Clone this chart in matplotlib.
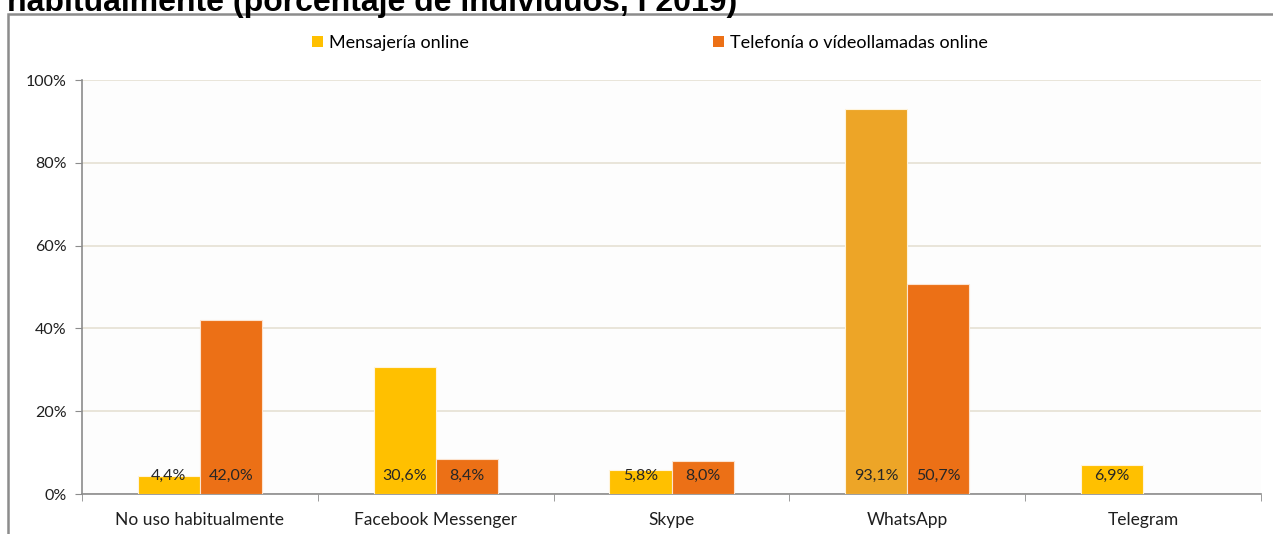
import numpy as np
from matplotlib import pyplot as plt
import matplotlib.patches as patches

categorias = ['No uso habitualmente', 'Facebook Messenger', 'Skype', 'WhatsApp', 'Telegram']
mensajeria = [4.4, 30.6, 5.8, 93.1, 6.9]
telefonia = [42.0, 8.4, 8.0, 50.7, np.nan]
series = ['Mensajería online', 'Telefonía o vídeollamadas online']
yticks = [0, 20, 40, 60, 80, 100]

col_msg = '#FFC000'
col_msg_wa = '#EDA527'
col_tel = '#EC7016'

plt.rcParams['font.family'] = ['Lato', 'DejaVu Sans']

fig = plt.figure(figsize=(12.73, 5.34), dpi=100)
fig.patch.set_facecolor('white')

# marco exterior del gráfico
marco = patches.Rectangle((8 / 1273, -0.05), 1.2, (534 - 13.5) / 534 + 0.05,
                          transform=fig.transFigure, fill=False,
                          edgecolor='#8C8C8C', linewidth=1.8)
fig.add_artist(marco)

fig.text(7 / 1273, 1 - 11 / 534, 'habitualmente (porcentaje de individuos, I 2019)',
         fontsize=23, fontweight='bold', family=['Liberation Sans', 'DejaVu Sans'],
         ha='left', va='baseline')

ax = fig.add_axes([82 / 1273, 40 / 534, (1261 - 82) / 1273, (494 - 80) / 534])
ax.set_facecolor('#FDFDFD')

x = np.arange(len(categorias))
w = 0.263
colores_msg = [col_msg_wa if c == 'WhatsApp' else col_msg for c in categorias]
b1 = ax.bar(x - w / 2, mensajeria, w, color=colores_msg, edgecolor='#FFF4DC',
            linewidth=0.8, label=series[0], zorder=3)
b2 = ax.bar(x + w / 2, telefonia, w, color=col_tel, edgecolor='#FCE3CF',
            linewidth=0.8, label=series[1], zorder=3)

for xi, v in zip(x, mensajeria):
    ax.text(xi - w / 2, 4.3, f'{v:.1f}%'.replace('.', ','), ha='center', va='center',
            fontsize=11.5, color='#262626', zorder=4)
for xi, v in zip(x, telefonia):
    if not np.isnan(v):
        ax.text(xi + w / 2, 4.3, f'{v:.1f}%'.replace('.', ','), ha='center', va='center',
                fontsize=11.5, color='#262626', zorder=4)

ax.set_xlim(-0.5, len(categorias) - 0.5)
ax.set_ylim(0, 100)
ax.set_yticks(yticks)
ax.set_yticklabels([f'{t}%' for t in yticks])
ax.yaxis.grid(True, color='#E6E1D3', linewidth=1.2, zorder=0)

ax.set_xticks(x)
ax.set_xticklabels(categorias)
ax.set_xticks(np.arange(len(categorias) + 1) - 0.5, minor=True)
ax.tick_params(axis='x', which='major', length=0, pad=13, labelsize=12.5, colors='#1F1F1F')
ax.tick_params(axis='x', which='minor', length=5, color='#8C8C8C', direction='out')
ax.tick_params(axis='y', length=5, color='#8C8C8C', pad=6, labelsize=11.5, labelcolor='#1F1F1F')

for s in ['top', 'right']:
    ax.spines[s].set_visible(False)
ax.spines['left'].set_color('#8C8C8C')
ax.spines['bottom'].set_color('#8C8C8C')
ax.spines['left'].set_linewidth(1.2)
ax.spines['bottom'].set_linewidth(1.2)

leg = fig.legend(handles=[b1, b2], labels=series, loc='center', ncol=2,
                 bbox_to_anchor=(650 / 1273, 1 - 43 / 534), frameon=False,
                 fontsize=13, handlelength=0.6, handleheight=0.6,
                 handletextpad=0.35, columnspacing=13.5)
leg.legend_handles[0].set_color(col_msg)
leg.legend_handles[0].set_edgecolor('none')
leg.legend_handles[1].set_edgecolor('none')

plt.savefig('out.png', dpi=100)
